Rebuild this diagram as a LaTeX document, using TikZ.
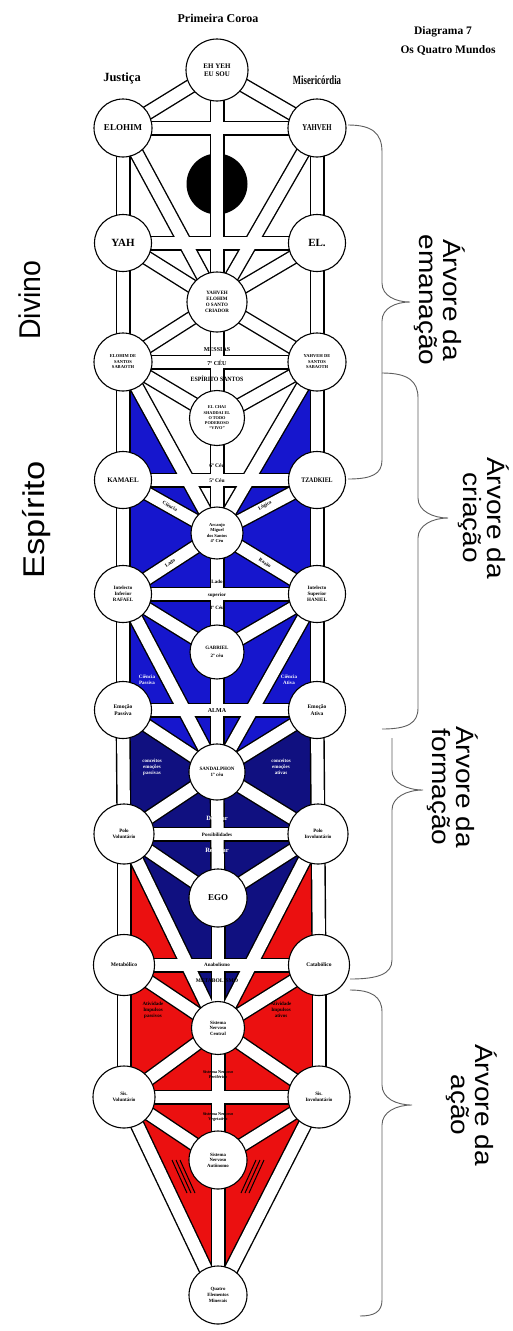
\documentclass[tikz,border=0pt]{standalone}
\usepackage{fontspec}
\setmainfont{Liberation Serif}
\newfontfamily\arialf{Liberation Sans}
\usetikzlibrary{calc}
\definecolor{bblue}{RGB}{22,22,205}
\definecolor{nblue}{RGB}{16,16,128}
\definecolor{rred}{RGB}{235,16,16}
\definecolor{bracegray}{RGB}{95,95,95}
\newcommand\strtxt[1]{\scalebox{1.12}[1]{#1}}
\begin{document}
\begin{tikzpicture}[x=1pt,y=-1pt,
  bandout/.style={line width=15pt,black},
  bandin/.style={line width=12.2pt,white},
  sef/.style={circle,draw=black,fill=white,line width=1.1pt,inner sep=0pt,align=center,font=\bfseries\fontsize{5}{5.8}\selectfont},
  bartxt/.style={font=\bfseries\fontsize{5}{5.8}\selectfont,align=center,inner sep=0pt},
  wtxt/.style={font=\bfseries\fontsize{5}{5.8}\selectfont,align=center,inner sep=0pt,text=white},
  title/.style={font=\bfseries\fontsize{11.5}{13}\selectfont,inner sep=0pt},
  arvore/.style={font=\arialf\fontsize{25}{24}\selectfont,align=center,rotate=-90,inner sep=0pt},
  mundo/.style={font=\arialf\fontsize{30}{30}\selectfont,rotate=90,inner sep=0pt},
  bracel/.style={draw=bracegray,line width=0.9pt}
]
\useasboundingbox (0,0) rectangle (512,1331);
\fill[white] (0,0) rectangle (512,1331);
% positions
\coordinate (C0) at (217,70);
\coordinate (L1) at (123,128); \coordinate (R1) at (317,128);
\coordinate (D) at (217,184);
\coordinate (L2) at (123,243); \coordinate (R2) at (317,243);
\coordinate (C1) at (217,302);
\coordinate (L3) at (123,362); \coordinate (R3) at (317,362);
\coordinate (C2) at (217,418);
\coordinate (L4) at (123,480); \coordinate (R4) at (317,480);
\coordinate (C3) at (217,533);
\coordinate (L5) at (123,594); \coordinate (R5) at (317,594);
\coordinate (C4) at (217,652);
\coordinate (L6) at (123,710); \coordinate (R6) at (317,710);
\coordinate (C5) at (217,772);
\coordinate (L7) at (124,834); \coordinate (R7) at (318,834);
\coordinate (C6) at (218,898);
\coordinate (L8) at (124,965); \coordinate (R8) at (319,965);
\coordinate (C7) at (218,1028);
\coordinate (L9) at (124,1097); \coordinate (R9) at (319,1097);
\coordinate (C8) at (218,1160);
\coordinate (C9) at (218,1295);
% coloured fields
\fill[rred] (L7) -- (L8) -- (L9) -- (C9) -- (R9) -- (R8) -- (R7) -- cycle;
\fill[nblue] (L6) -- (L7) -- (C7) -- (R7) -- (R6) -- cycle;
\fill[bblue] (C1) -- (L3) -- (L4) -- (L5) -- (L6) -- (C5) -- (R6) -- (R5) -- (R4) -- (R3) -- cycle;
\fill[white] (C0) -- (L1) -- (L2) -- (L3) -- (C3) -- (R3) -- (R2) -- (R1) -- cycle;
% hatch marks
\foreach \i in {0,1,2} {
  \draw[line width=1pt] ($(172,1160)+(4*\i,0)$) -- ($(187,1193)+(4*\i,0)$);
  \draw[line width=1pt] ($(264,1160)-(4*\i,0)$) -- ($(249,1193)-(4*\i,0)$);
}
% daath
\node[circle,fill=black,minimum size=61pt,inner sep=0pt] (nD) at (D) {};
% paths
\def\allpaths{C0/C1,C1/C2,C2/C3,C3/C4,C4/C5,C5/C6,C6/C7,C7/C8,C8/C9,
L1/R1,L2/R2,L3/R3,L4/R4,L5/R5,L6/R6,L7/R7,L8/R8,L9/R9,
L1/L2,L2/L3,L3/L4,L4/L5,L5/L6,L6/L7,L7/L8,L8/L9,
R1/R2,R2/R3,R3/R4,R4/R5,R5/R6,R6/R7,R7/R8,R8/R9,
C0/L1,C0/R1,L1/C1,R1/C1,L2/C1,R2/C1,C1/L3,C1/R3,L3/C2,R3/C2,L3/C3,R3/C3,
L4/C3,R4/C3,C3/L5,C3/R5,L5/C4,R5/C4,L5/C5,R5/C5,
L6/C5,R6/C5,C5/L7,C5/R7,L7/C6,R7/C6,L7/C7,R7/C7,
L8/C7,R8/C7,C7/L9,C7/R9,L9/C8,R9/C8,L9/C9,R9/C9}
\foreach \a/\b in \allpaths { \draw[bandout] (\a) -- (\b); }
\foreach \a/\b in \allpaths { \draw[bandin] (\a) -- (\b); }
% sephiroth
\node[sef,minimum size=62pt,font=\bfseries\fontsize{7}{8}\selectfont] (nC0) at (C0) {EH YEH\\EU SOU};
\node[sef,minimum size=58pt,font=\bfseries\fontsize{9}{10}\selectfont] (nL1) at (L1) {ELOHIM};
\node[sef,minimum size=58pt,font=\bfseries\fontsize{9}{10}\selectfont] (nR1) at (R1) {\scalebox{0.75}[1]{YAHVEH}};
\node[sef,minimum size=57pt,font=\bfseries\fontsize{11}{12}\selectfont] (nL2) at (L2) {YAH};
\node[sef,minimum size=57pt,font=\bfseries\fontsize{11}{12}\selectfont] (nR2) at (R2) {EL.};
\node[sef,minimum size=60pt] (nC1) at (C1) {YAHVEH\\ELOHIM\\O SANTO\\CRIADOR};
\node[sef,minimum size=58pt,font=\bfseries\fontsize{4.5}{5.5}\selectfont] (nL3) at (L3) {ELOHIM DE\\SANTOS\\SABAOTH};
\node[sef,minimum size=58pt,font=\bfseries\fontsize{4.5}{5.5}\selectfont] (nR3) at (R3) {YAHVEH DE\\SANTOS\\SABAOTH};
\node[sef,minimum size=55pt,font=\bfseries\fontsize{4.3}{5.2}\selectfont] (nC2) at (C2) {EL CHAI\\SHADDAI EL\\O TODO\\PODEROSO\\“VIVO”};
\node[sef,minimum size=57pt,font=\bfseries\fontsize{7}{8}\selectfont] (nL4) at (L4) {KAMAEL};
\node[sef,minimum size=57pt,font=\bfseries\fontsize{7}{8}\selectfont] (nR4) at (R4) {\scalebox{0.85}[1]{TZADKIEL}};
\node[sef,minimum size=52pt,font=\bfseries\fontsize{4.5}{5.5}\selectfont] (nC3) at (C3) {Arcanjo\\Miguel\\dos Santos\\4º Céu};
\node[sef,minimum size=57pt] (nL5) at (L5) {Intelecto\\Inferior\\RAFAEL};
\node[sef,minimum size=57pt] (nR5) at (R5) {Intelecto\\Superior\\HANIEL};
\node[sef,minimum size=54pt] (nC4) at (C4) {GABRIEL\\[2pt]2º céu};
\node[sef,minimum size=57pt,font=\bfseries\fontsize{5.5}{7}\selectfont] (nL6) at (L6) {Emoção\\Passiva};
\node[sef,minimum size=57pt,font=\bfseries\fontsize{5.5}{7}\selectfont] (nR6) at (R6) {Emoção\\Ativa};
\node[sef,minimum size=56pt] (nC5) at (C5) {SANDALPHON\\1º céu};
\node[sef,minimum size=60pt] (nL7) at (L7) {Polo\\Voluntário};
\node[sef,minimum size=60pt] (nR7) at (R7) {Polo\\Involuntário};
\node[sef,minimum size=58pt,font=\bfseries\fontsize{9}{10}\selectfont] (nC6) at (C6) {EGO};
\node[sef,minimum size=61pt,font=\bfseries\fontsize{5.5}{7}\selectfont] (nL8) at (L8) {Metabólico};
\node[sef,minimum size=61pt,font=\bfseries\fontsize{5.5}{7}\selectfont] (nR8) at (R8) {Catabólico};
\node[sef,minimum size=53pt,font=\bfseries\fontsize{4.8}{5.6}\selectfont] (nC7) at (C7) {Sistema\\Nervoso\\Central};
\node[sef,minimum size=62pt] (nL9) at (L9) {Sis.\\Voluntário};
\node[sef,minimum size=62pt] (nR9) at (R9) {Sis.\\Involuntário};
\node[sef,minimum size=58pt,font=\bfseries\fontsize{4.8}{5.6}\selectfont] (nC8) at (C8) {Sistema\\Nervoso\\Autônomo};
\node[sef,minimum size=58pt,font=\bfseries\fontsize{4.8}{5.6}\selectfont] (nC9) at (C9) {Quatro\\Elementos\\Minerais};
% texts on bars and fields
\node[bartxt,font=\bfseries\fontsize{6}{7}\selectfont] (t3a) at (217,350) {MESSIAS};
\node[bartxt,font=\bfseries\fontsize{6}{7}\selectfont] (t3b) at (217,363) {7º CÉU};
\node[bartxt,font=\bfseries\fontsize{6.5}{7}\selectfont] (t3c) at (217,379) {\scalebox{0.9}[1]{ESPÍRITO SANTOS}};
\node[bartxt,font=\bfseries\fontsize{5.5}{6}\selectfont] (t4a) at (217,466) {6º Céu};
\node[bartxt,font=\bfseries\fontsize{5.5}{6}\selectfont] (t4b) at (217,481) {5º Céu};
\node[bartxt,rotate=-29] (t4c) at (170,506) {Ciência};
\node[bartxt,rotate=29] (t4d) at (265,506) {Lógica};
\node[bartxt,rotate=33] (t5c) at (170,563) {Lado};
\node[bartxt,rotate=-33] (t5d) at (265,563) {Razão};
\node[bartxt] (t5a) at (217,582) {Lado};
\node[bartxt] (t5b) at (217,595) {superior};
\node[bartxt] (t5e) at (217,608) {3º Céu};
\node[wtxt] (t6a) at (147,680) {Ciência\\Passiva};
\node[wtxt] (t6b) at (289,680) {Ciência\\Ativa};
\node[bartxt,font=\bfseries\fontsize{6}{7}\selectfont] (t6c) at (217,711) {ALMA};
\node[wtxt] (t7a) at (152,767) {conceitos\\emoções\\passivas};
\node[wtxt] (t7b) at (281,767) {conceitos\\emoções\\ativas};
\node[wtxt,font=\bfseries\fontsize{6.5}{7}\selectfont] (t7c) at (217,819) {Desejar};
\node[bartxt] (t7d) at (217,835) {Possibilidades};
\node[wtxt,font=\bfseries\fontsize{6.5}{7}\selectfont] (t7e) at (217,850) {Realizar};
\node[bartxt] (t8a) at (217,965) {Anabolismo};
\node[bartxt,font=\bfseries\fontsize{5.5}{6}\selectfont] (t8b) at (217,981) {METABOLISMO};
\node[bartxt] (t8c) at (153,1010) {Atividade\\Impulsos\\passivos};
\node[bartxt] (t8d) at (281,1010) {Atividade\\Impulsos\\ativos};
\node[bartxt,font=\bfseries\fontsize{4.3}{5}\selectfont] (t9a) at (218,1075) {Sistema Nervoso\\Periférico};
\node[bartxt,font=\bfseries\fontsize{4.3}{5}\selectfont] (t9b) at (218,1117) {Sistema Nervoso\\Vegetativo};
% headings
\node[title,font=\bfseries\fontsize{12}{13}\selectfont] (hP) at (218,18) {Primeira Coroa};
\node[title,font=\bfseries\fontsize{12.5}{13}\selectfont] (hJ) at (122,78) {Justiça};
\node[title,font=\bfseries\fontsize{12.5}{13}\selectfont] (hM) at (317,80) {\scalebox{0.7}[1]{Misericórdia}};
\node[title] (hD) at (443,32) {Diagrama 7};
\node[title] (hQ) at (448,50) {Os Quatro Mundos};
\node[mundo] (wD) at (30,300) {\scalebox{0.95}[1]{Divino}};
\node[mundo] (wE) at (37,520) {\scalebox{1.15}[1]{Espírito}};
% braces
\draw[bracel] (348,125) .. controls (372,125) and (382,133) .. (382,152) -- (382,283) .. controls (382,296) and (396,302) .. (410,302) .. controls (396,302) and (382,308) .. (382,321) -- (382,460) .. controls (382,474) and (372,479) .. (348,479);
\draw[bracel] (382,373) .. controls (408,373) and (418,381) .. (418,398) -- (418,498) .. controls (418,511) and (433,518) .. (448,518) .. controls (433,518) and (418,525) .. (418,538) -- (418,708) .. controls (418,723) and (408,729) .. (382,729);
\draw[bracel] (392,738) -- (392,770) .. controls (392,783) and (407,790) .. (423,790) .. controls (407,790) and (392,797) .. (392,810) -- (392,960) .. controls (392,974) and (378,979) .. (350,979);
\draw[bracel] (350,990) .. controls (372,990) and (382,997) .. (382,1012) -- (382,1085) .. controls (382,1098) and (396,1105) .. (412,1105) .. controls (396,1105) and (382,1112) .. (382,1125) -- (382,1300) .. controls (382,1312) and (374,1316) .. (360,1316);
\node[arvore] (aE) at (440,300) {\strtxt{Árvore da}\\\strtxt{emanação}};
\node[arvore] (aC) at (484,518) {\strtxt{Árvore da}\\\strtxt{criação}};
\node[arvore] (aF) at (453,787) {\strtxt{Árvore da}\\\strtxt{formação}};
\node[arvore] (aA) at (472,1105) {\strtxt{Árvore da}\\\strtxt{ação}};
\end{tikzpicture}
\end{document}
